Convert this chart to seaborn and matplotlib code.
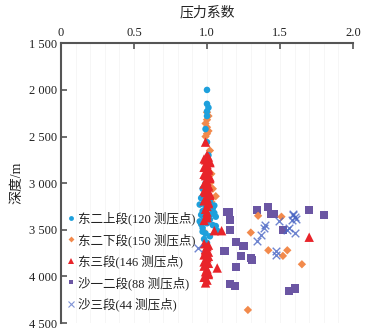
import matplotlib
matplotlib.use("Agg")
import matplotlib.pyplot as plt
import seaborn as sns
import pandas as pd
from matplotlib.lines import Line2D
from matplotlib.ticker import MultipleLocator

sns.set_theme(style="white")
plt.rcParams['font.family'] = ['Liberation Serif', 'Noto Sans CJK SC', 'DejaVu Sans']

# ---- data ----
blue_x = [1.00, 1.00, 1.01, 1.00, 1.00, 0.99, 1.00, 1.01, 1.00, 0.99, 0.97, 1.00, 0.96, 0.98,
          1.02, 0.95, 0.99, 1.04, 0.97, 1.05, 0.96, 1.06, 0.98, 1.02, 0.95, 1.00, 1.04, 0.97,
          1.06, 0.99, 1.02, 0.98, 1.00, 1.07, 0.96, 1.03, 0.97, 1.05]
blue_y = [2000, 2150, 2190, 2230, 2280, 2420, 2560, 2700, 2850, 3000, 3060, 3120, 3160, 3190,
          3200, 3230, 3250, 3270, 3300, 3320, 3340, 3360, 3380, 3390, 3410, 3430, 3450, 3480,
          3460, 3540, 3570, 3600, 3640, 3510, 3440, 3330, 3520, 3240]

orange_x = [1.00, 1.01, 1.00, 0.99, 1.00, 1.01, 1.00, 0.99, 1.02, 1.03, 1.02, 1.04, 1.00, 1.06,
            1.02, 1.03, 0.98, 1.35, 1.51, 1.30, 1.42, 1.55, 1.52, 1.65, 1.28]
orange_y = [2240, 2280, 2320, 2360, 2400, 2440, 2470, 2500, 2650, 2900, 3000, 3060, 3100, 3140,
            3160, 3200, 3520, 3350, 3360, 3530, 3720, 3720, 3780, 3870, 4360]

red_x = [0.99, 1.00, 1.01, 0.99, 1.02, 1.00, 0.98, 1.01, 1.00, 0.99, 1.02, 1.00, 0.98, 1.01,
         1.00, 0.99, 1.02, 1.00, 0.98, 1.01, 1.00, 0.99, 1.00, 1.00,
         0.98, 1.02, 0.99, 1.01, 0.98, 1.02, 0.99, 1.01, 0.98, 1.02, 0.99, 1.01, 1.00, 0.98,
         1.05, 1.10, 1.70, 1.07,
         0.98, 1.00, 0.99, 1.01, 0.98, 1.00, 0.99, 1.01, 0.98, 1.00, 0.99, 1.01, 0.98, 1.00, 0.99,
         1.01, 0.99, 1.01, 0.98, 1.01]
red_y = [2560, 2700, 2720, 2750, 2780, 2800, 2830, 2860, 2890, 2920, 2950, 2980, 3010, 3040,
         3070, 3100, 3130, 3160, 3190, 3220, 3250, 3280, 3310, 3340,
         2740, 2770, 2815, 2845, 2905, 2935, 2995, 3025, 3085, 3115, 3175, 3205, 3370, 3400,
         3510, 3510, 3580, 3910,
         3650, 3680, 3710, 3740, 3770, 3800, 3830, 3860, 3890, 3920, 3950, 3980, 4010, 4040, 4070,
         3665, 3725, 3785, 3845, 3965]

purple_x = [1.15, 1.16, 1.16, 1.34, 1.42, 1.44, 1.46, 1.52, 1.70, 1.80, 1.12, 1.20, 1.25, 1.23,
            1.30, 1.31, 1.20, 1.16, 1.19, 1.56, 1.60, 1.14]
purple_y = [3310, 3400, 3500, 3290, 3260, 3330, 3330, 3500, 3290, 3340, 3730, 3630, 3670, 3780,
            3800, 3820, 3900, 4080, 4100, 4160, 4130, 3310]

sha3_x = [0.94, 1.59, 1.60, 1.58, 1.49, 1.55, 1.60, 1.39, 1.37, 1.34, 1.47, 1.47, 1.59, 1.40,
          1.61, 1.56]
sha3_y = [3700, 3340, 3360, 3400, 3410, 3500, 3530, 3480, 3560, 3620, 3730, 3770, 3330, 3450,
          3380, 3480]

labels = ["东二上段(120 测压点)", "东二下段(150 测压点)", "东三段(146 测压点)",
          "沙一二段(88 测压点)", "沙三段(44 测压点)"]
x_ticks = [0, 0.5, 1.0, 1.5, 2.0]
x_ticklabels = ["0", "0.5", "1.0", "1.5", "2.0"]
y_ticks = [1500, 2000, 2500, 3000, 3500, 4000, 4500]
y_ticklabels = ["1 500", "2 000", "2 500", "3 000", "3 500", "4 000", "4 500"]

colors = ["#1ea0dc", "#f28a4c", "#e8242a", "#6b56a3", "#4a66c4"]

fig = plt.figure(figsize=(3.65, 3.34), dpi=100)
ax = fig.add_axes([61/365, 1-323/334, 292/365, (323-43.3)/334])

sns.scatterplot(x=purple_x, y=purple_y, marker="s", s=34, color=colors[3], edgecolor="none", ax=ax, zorder=3)
sns.scatterplot(x=orange_x, y=orange_y, marker="D", s=18, color=colors[1], edgecolor="none", ax=ax, zorder=4)
sns.scatterplot(x=blue_x, y=blue_y, marker="o", s=22, color=colors[0], edgecolor="none", ax=ax, zorder=4)
sns.scatterplot(x=red_x, y=red_y, marker="^", s=46, color=colors[2], edgecolor="none", ax=ax, zorder=5)
sns.scatterplot(x=sha3_x, y=sha3_y, marker="x", s=30, color=colors[4], linewidth=1.0, alpha=0.8, ax=ax, zorder=6)

ax.set_xlim(0, 2.0)
ax.set_ylim(4500, 1500)
ax.xaxis.tick_top()
ax.xaxis.set_label_position("top")
ax.set_xticks(x_ticks)
ax.set_xticklabels(x_ticklabels)
ax.set_yticks(y_ticks)
ax.set_yticklabels(y_ticklabels)
ax.xaxis.set_minor_locator(MultipleLocator(0.1))
ax.grid(which="both", axis="x", color="#f5f5f5", linewidth=0.6)
ax.grid(False, axis="y")
ax.set_axisbelow(True)

for side in ["right", "bottom"]:
    ax.spines[side].set_visible(False)
for side in ["left", "top"]:
    ax.spines[side].set_color("#555555")
    ax.spines[side].set_linewidth(1.5)

ax.tick_params(axis="both", which="major", direction="in", length=4, width=1.2,
               color="#555555", labelsize=9, labelcolor="#222222", pad=3)
ax.tick_params(axis="x", which="major", top=True, bottom=False)
ax.tick_params(axis="x", which="minor", length=0)
ax.tick_params(axis="y", left=True, right=False)

ax.set_xlabel("压力系数", fontsize=10, labelpad=8, color="#222222")
ax.set_ylabel("深度/m", fontsize=10, labelpad=4, color="#222222")

handles = [
    Line2D([], [], marker="o", ls="", color=colors[0], markersize=3.5, markeredgewidth=0),
    Line2D([], [], marker="D", ls="", color=colors[1], markersize=3, markeredgewidth=0),
    Line2D([], [], marker="^", ls="", color=colors[2], markersize=4, markeredgewidth=0),
    Line2D([], [], marker="s", ls="", color=colors[3], markersize=3.5, markeredgewidth=0),
    Line2D([], [], marker="x", ls="", color=colors[4], markersize=4, markeredgewidth=0.8, alpha=0.7),
]
leg = ax.legend(handles, labels, loc="upper left", bbox_to_anchor=(-0.005, 0.425), frameon=False,
                fontsize=9, handlelength=0.6, handletextpad=0.3, labelspacing=0.62,
                borderaxespad=0.2)
for t in leg.get_texts():
    t.set_color("#222222")

fig.savefig("out.png", dpi=100)
